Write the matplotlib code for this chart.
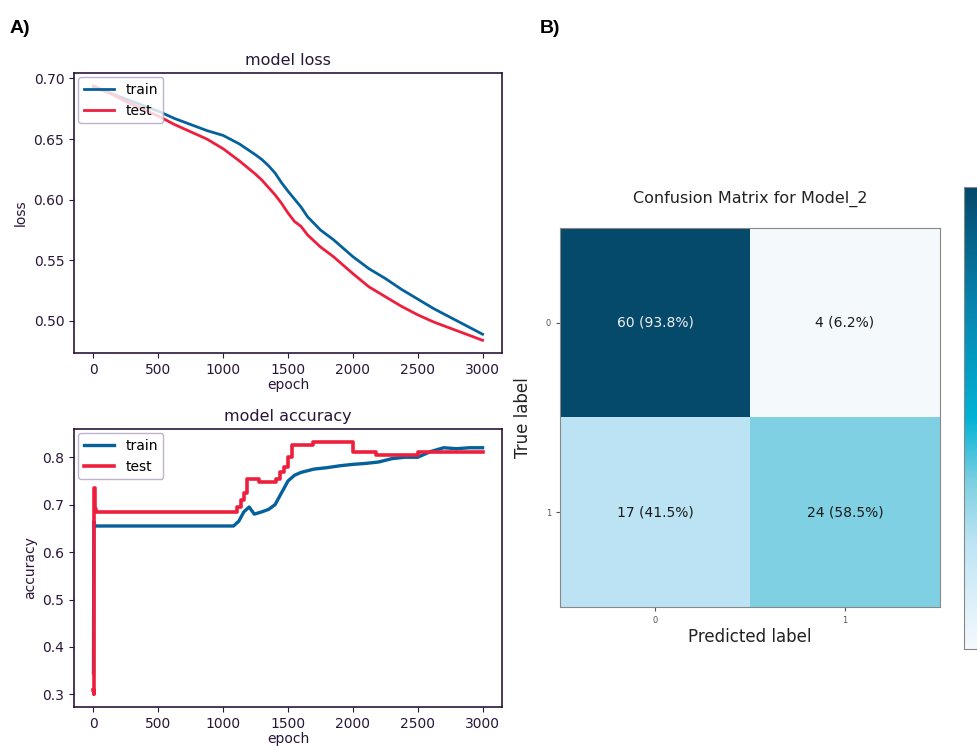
import matplotlib.pyplot as plt
import numpy as np
from matplotlib.colors import LinearSegmentedColormap

# ---- data ----
loss_epoch = [0, 125, 250, 375, 500, 625, 750, 875, 1000, 1125, 1250, 1300, 1350, 1400, 1450, 1500,
              1550, 1600, 1650, 1750, 1850, 2000, 2125, 2250, 2375, 2500, 2625, 2750, 2875, 3000]
loss_train = [0.693, 0.688, 0.683, 0.678, 0.673, 0.667, 0.662, 0.657, 0.653, 0.646, 0.637, 0.633,
              0.628, 0.622, 0.614, 0.607, 0.6005, 0.594, 0.586, 0.575, 0.567, 0.553, 0.543, 0.535,
              0.526, 0.518, 0.510, 0.503, 0.496, 0.489]
loss_test = [0.694, 0.688, 0.681, 0.675, 0.669, 0.662, 0.656, 0.650, 0.642, 0.632, 0.621, 0.616,
             0.610, 0.604, 0.597, 0.589, 0.582, 0.578, 0.571, 0.561, 0.553, 0.539, 0.528, 0.520,
             0.512, 0.505, 0.499, 0.494, 0.489, 0.484]

acc_epoch_train = [0, 3, 8, 20, 1080, 1120, 1160, 1200, 1240, 1300, 1350, 1400, 1450, 1500, 1550,
                   1600, 1700, 1800, 1900, 2000, 2100, 2200, 2300, 2400, 2500, 2600, 2700, 2800, 2900, 3000]
acc_train = [0.345, 0.665, 0.658, 0.655, 0.655, 0.665, 0.685, 0.695, 0.68, 0.685, 0.69, 0.70, 0.725,
             0.75, 0.762, 0.768, 0.775, 0.778, 0.782, 0.785, 0.787, 0.79, 0.797, 0.80, 0.80, 0.812,
             0.82, 0.818, 0.82, 0.82]

acc_epoch_test = [0, 3, 6, 9, 12, 20, 1080, 1110, 1140, 1160, 1180, 1277, 1410, 1440, 1470, 1500,
                  1530, 1690, 2000, 2180, 2500, 3000]
acc_test = [0.31, 0.30, 0.735, 0.72, 0.69, 0.685, 0.685, 0.695, 0.71, 0.725, 0.755, 0.748, 0.755,
            0.768, 0.78, 0.80, 0.825, 0.833, 0.812, 0.804, 0.81, 0.81]

cm = np.array([[60, 4], [17, 24]])
cm_labels = ["60 (93.8%)", "4 (6.2%)", "17 (41.5%)", "24 (58.5%)"]
classes = ["0", "1"]

train_c = "#05619b"
test_c = "#ee1f3d"
ink = "#2a1638"

fig = plt.figure(figsize=(9.78, 7.46), dpi=100)

fig.text(0.010, 0.962, "A)", fontsize=14, fontweight="bold", family="Liberation Sans", va="center")
fig.text(0.552, 0.962, "B)", fontsize=14, fontweight="bold", family="Liberation Sans", va="center")


def style(ax):
    for s in ax.spines.values():
        s.set_color(ink)
        s.set_linewidth(1.2)
    ax.tick_params(colors=ink, labelsize=10, labelcolor=ink)


ax1 = fig.add_axes([0.0757, 0.5268, 0.4376, 0.3753])
ax1.plot(loss_epoch, loss_train, color=train_c, lw=2, label="train")
ax1.plot(loss_epoch, loss_test, color=test_c, lw=2, label="test")
ax1.set_title("model loss", fontsize=11.5, color=ink)
ax1.set_xlabel("epoch", fontsize=10, color=ink, labelpad=1)
ax1.set_ylabel("loss", fontsize=10, color=ink)
ax1.set_yticks([0.50, 0.55, 0.60, 0.65, 0.70])
ax1.set_xticks([0, 500, 1000, 1500, 2000, 2500, 3000])
leg = ax1.legend(loc="upper left", fontsize=10, borderaxespad=0.3, handlelength=2.2)
leg.get_frame().set_edgecolor("#b0a0c0")
style(ax1)

ax2 = fig.add_axes([0.0757, 0.0523, 0.4376, 0.3727])
ax2.plot(acc_epoch_train, acc_train, color=train_c, lw=2.4, label="train")
ax2.plot(acc_epoch_test, acc_test, color=test_c, lw=2.6, label="test", drawstyle="steps-post")
ax2.set_title("model accuracy", fontsize=11.5, color=ink)
ax2.set_xlabel("epoch", fontsize=10, color=ink, labelpad=1)
ax2.set_ylabel("accuracy", fontsize=10, color=ink)
ax2.set_xticks([0, 500, 1000, 1500, 2000, 2500, 3000])
leg = ax2.legend(loc="upper left", fontsize=10, borderaxespad=0.3, handlelength=2.2)
leg.get_frame().set_edgecolor("#b0a0c0")
style(ax2)

cmap = LinearSegmentedColormap.from_list(
    "cm", [(0.0, "#f4f9fc"), (0.23, "#bde4f4"), (0.36, "#7ed0e2"), (0.5, "#02b2d4"),
           (0.75, "#0683ad"), (1.0, "#05496b")])

ax3 = fig.add_axes([0.5726, 0.1863, 0.3885, 0.508])
im = ax3.imshow(cm, cmap=cmap, vmin=4, vmax=60, aspect="auto")
for i in range(2):
    for j in range(2):
        ax3.text(j, i, cm_labels[i * 2 + j], ha="center", va="center", fontsize=10,
                 color="#f0f0f0" if cm[i, j] > 40 else "#1a1a1a")
ax3.set_xticks([0, 1])
ax3.set_yticks([0, 1])
ax3.set_xticklabels(classes)
ax3.set_yticklabels(classes)
ax3.tick_params(labelsize=6, colors="#555555", length=3)
ax3.set_title("Confusion Matrix for Model_2", fontsize=11.5, pad=18, color="#222222")
ax3.set_xlabel("Predicted label", fontsize=12, color="#222222", labelpad=2)
ax3.set_ylabel("True label", fontsize=12, color="#222222", labelpad=10)
for s in ax3.spines.values():
    s.set_color("#888888")

# colorbar runs off the right edge, as in the source image
cax = fig.add_axes([0.9857, 0.13, 0.03, 0.619])
cb = fig.colorbar(im, cax=cax)
cb.outline.set_edgecolor("#888888")
cb.set_ticks([])

fig.savefig("out.png", dpi=100)
